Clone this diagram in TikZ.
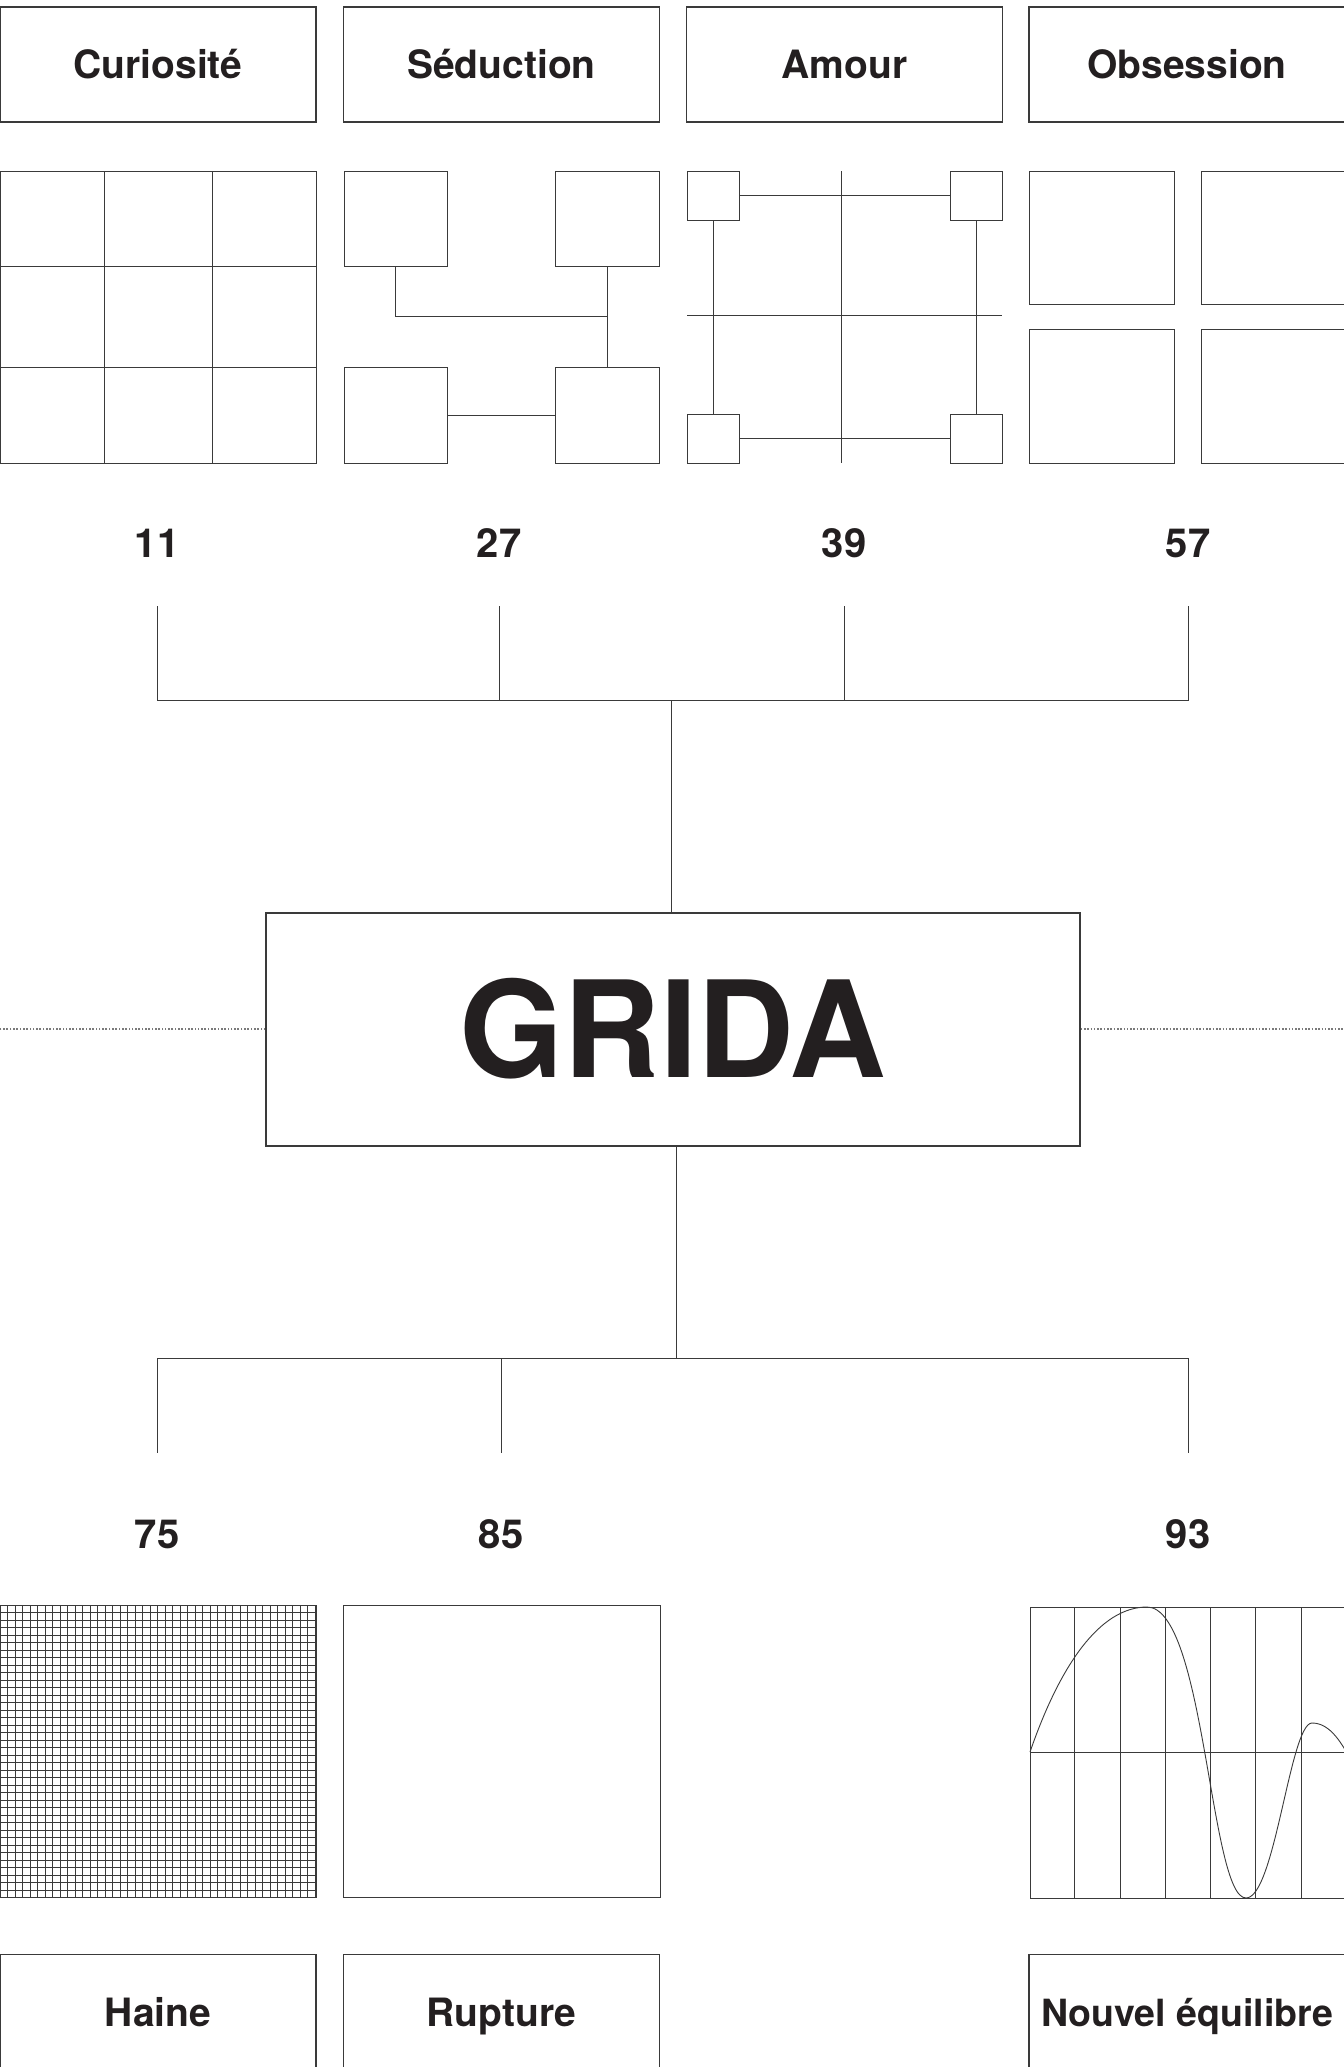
\documentclass[tikz,border=0pt]{standalone}
\usepackage{fontspec}
\setmainfont{TeX Gyre Heros}
\usepackage{tikz}
\usetikzlibrary{positioning}
\definecolor{ink}{HTML}{231F20}
\definecolor{rule}{HTML}{3A3A3A}
\definecolor{dots}{HTML}{7A7A7A}

\begin{document}
\begin{tikzpicture}[x=1pt,y=-1pt,
    labelbox/.style={draw=rule,line width=1.2pt,minimum width=316,minimum height=115,inner sep=0pt,
        text=ink,font=\fontsize{39}{39}\selectfont\bfseries,text height=28pt,text depth=0pt},
    numtop/.style={inner sep=0pt,minimum height=126,text=ink,font=\fontsize{40}{40}\selectfont\bfseries,text height=29pt,text depth=0pt},
    numbot/.style={numtop,minimum height=162},
    thinline/.style={draw=rule,line width=0.9pt},
    tinybox/.style={thinline,inner sep=0pt},
    dotline/.style={draw=dots,line width=1.3pt,dash pattern=on 1.6pt off 1.7pt}]

    \useasboundingbox (0,0) rectangle (1344,2067);

    % etiquettes du haut
    \node[labelbox] (cur) at (158,64.5) {Curiosité};
    \node[labelbox] (sed) at (501.5,64.5) {Séduction};
    \node[labelbox] (amo) at (844.5,64.5) {Amour};
    \node[labelbox] (obs) at (1187,64.5) {Obsession};

    % Curiosite : grille 3x3
    \draw[thinline] (0,171) rectangle (316,463);
    \foreach \gx in {104,212} \draw[thinline] (\gx,171) -- (\gx,463);
    \foreach \gy in {266,367} \draw[thinline] (0,\gy) -- (316,\gy);

    % Seduction
    \node[tinybox,minimum width=103,minimum height=95] (s1) at (395.5,218.5) {};
    \node[tinybox,minimum width=104,minimum height=95] (s2) at (607,218.5) {};
    \node[tinybox,minimum width=103,minimum height=96] (s3) at (395.5,415) {};
    \node[tinybox,minimum width=104,minimum height=96] (s4) at (607,415) {};
    \coordinate (selbow) at (607,316);
    \draw[thinline] (s1.south) |- (selbow);
    \draw[thinline] (s2.south) -- (s4.north);
    \draw[thinline] (s3.east) -- (s4.west);

    % Amour
    \draw[thinline] (841,171) -- (841,463);
    \draw[thinline] (687,315) -- (1002,315);
    \node[tinybox,minimum width=52,minimum height=49] (a1) at (713,195.5) {};
    \node[tinybox,minimum width=52,minimum height=49] (a2) at (976,195.5) {};
    \node[tinybox,minimum width=52,minimum height=49] (a3) at (713,438.5) {};
    \node[tinybox,minimum width=52,minimum height=49] (a4) at (976,438.5) {};
    \draw[thinline] (a1.east) -- (a2.west);
    \draw[thinline] (a3.east) -- (a4.west);
    \draw[thinline] (a1.south) -- (a3.north);
    \draw[thinline] (a2.south) -- (a4.north);

    % Obsession
    \draw[thinline] (1029,171) rectangle (1174,304);
    \draw[thinline] (1201,171) rectangle (1350,304);
    \draw[thinline] (1029,329) rectangle (1174,463);
    \draw[thinline] (1201,329) rectangle (1350,463);

    % chiffres du haut
    \node[numtop] (n11) at (157,543) {11};
    \node[numtop] (n27) at (499,543) {27};
    \node[numtop] (n39) at (844,543) {39};
    \node[numtop] (n57) at (1188,543) {57};

    % centre
    \node[draw=rule,line width=1.2pt,minimum width=814,minimum height=233,inner sep=0pt,text=ink,
        font=\fontsize{134}{134}\selectfont\bfseries,text height=95pt,text depth=0pt] (grida) at (673,1029.5) {GRIDA};
    \coordinate (busT) at (671,700);
    \coordinate (busB) at (676,1358);
    \coordinate (edgeL) at (0,1029);
    \coordinate (edgeR) at (1344,1029);

    \draw[thinline] (n11.south) |- (busT) -| (n57.south);
    \draw[thinline] (n27.south) -- (n27.south |- busT);
    \draw[thinline] (n39.south) -- (n39.south |- busT);
    \draw[thinline] (busT) -- (busT |- grida.north);

    \draw[dotline] (grida.west |- edgeL) -- (edgeL);
    \draw[dotline] (grida.east |- edgeR) -- (edgeR);

    % chiffres du bas
    \node[numbot] (n75) at (157,1534) {75};
    \node[numbot] (n85) at (501,1534) {85};
    \node[numbot] (n93) at (1188,1534) {93};

    \draw[thinline] (busB |- grida.south) -- (busB);
    \draw[thinline] (n75.north) |- (busB) -| (n93.north);
    \draw[thinline] (n85.north) -- (n85.north |- busB);

    % Haine : grille fine
    \foreach \i in {0,...,42} \draw[draw=rule,line width=0.7pt] (\i*7.5,1605) -- (\i*7.5,1897);
    \foreach \j in {0,...,38} \draw[draw=rule,line width=0.7pt] (0,1605+\j*7.5) -- (316,1605+\j*7.5);
    \draw[thinline] (0,1605) rectangle (316,1897);

    % Rupture
    \draw[thinline] (343,1605) rectangle (660,1897);

    % Nouvel equilibre : courbe
    \draw[thinline] (1030,1607) rectangle (1350,1898);
    \foreach \gx in {1074,1120,1165,1210,1255,1301} \draw[thinline] (\gx,1607) -- (\gx,1898);
    \draw[thinline] (1030,1752) -- (1350,1752);
    \draw[thinline] (1030,1752) .. controls (1060,1665) and (1100,1607) .. (1147,1607)
        .. controls (1205,1607) and (1210,1898) .. (1246,1898)
        .. controls (1275,1898) and (1290,1723) .. (1312,1723)
        .. controls (1330,1723) and (1342,1742) .. (1356,1770);

    % etiquettes du bas
    \node[labelbox] (hai) at (158,2012) {Haine};
    \node[labelbox] (rup) at (501.5,2012) {Rupture};
    \node[labelbox,font=\fontsize{37.5}{37.5}\selectfont\bfseries] (nou) at (1187,2012) {Nouvel équilibre};

\end{tikzpicture}
\end{document}
